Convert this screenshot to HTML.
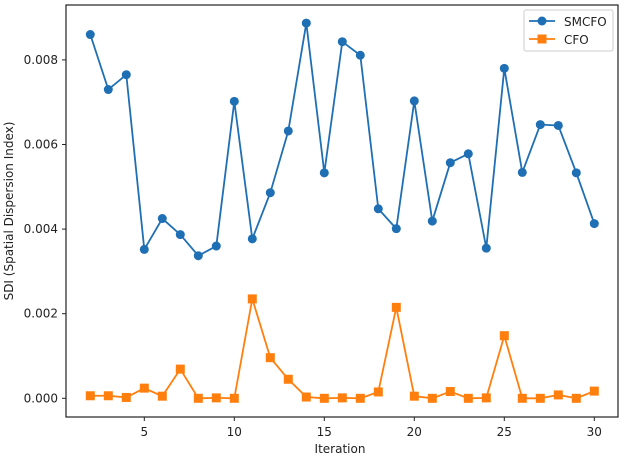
<!DOCTYPE html>
<html><head><meta charset="utf-8"><style>
body{margin:0;background:#fff;font-family:"Liberation Sans","DejaVu Sans",sans-serif;}
svg text{font-family:"DejaVu Sans","Liberation Sans",sans-serif;fill:#222;}
</style></head><body>
<svg id="chart" width="624" height="457">
<rect x="66" y="5" width="552" height="412" fill="#fff" stroke="#222" stroke-width="1.2"/>
<g id="axes"></g><g id="series"></g>
<text x="340" y="453" font-size="12" text-anchor="middle">Iteration</text>
<text transform="translate(13,211) rotate(-90)" font-size="12" text-anchor="middle">SDI (Spatial Dispersion Index)</text>
<g>
<rect x="524" y="10" width="89" height="41" fill="#fff" stroke="#ccc" rx="2"/>
<g><line x1="529" y1="21" x2="555" y2="21" stroke="#1f6fb4" stroke-width="1.8"/><circle cx="542" cy="21" r="4.5" fill="#1f6fb4"/><text x="564" y="26" font-size="12">SMCFO</text></g>
<g><line x1="529" y1="39" x2="555" y2="39" stroke="#ff7f0e" stroke-width="1.8"/><rect x="537.5" y="34.5" width="9" height="9" fill="#ff7f0e"/><text x="564" y="44" font-size="12">CFO</text></g>
</g>
</svg>
<script>
const iterations=[2,3,4,5,6,7,8,9,10,11,12,13,14,15,16,17,18,19,20,21,22,23,24,25,26,27,28,29,30];
const smcfo=[0.0086,0.0073,0.00765,0.00352,0.00425,0.00387,0.00337,0.0036,0.00702,0.00377,0.00486,0.00632,0.00887,0.00533,0.00843,0.00811,0.00448,0.00401,0.00703,0.00419,0.00557,0.00578,0.00355,0.0078,0.00534,0.00647,0.00645,0.00533,0.00413];
const cfo=[0.00006,0.00006,0.00002,0.00024,0.00005,0.00069,0,0.00001,0,0.00235,0.00096,0.00045,0.00003,0,0.00001,0,0.00015,0.00215,0.00005,0,0.00016,0,0.00001,0.00148,0,0,0.00008,0,0.00017];
const xTicks=[5,10,15,20,25,30];
const yTicks=[0,0.002,0.004,0.006,0.008];
const yTickLabels=["0.000","0.002","0.004","0.006","0.008"];
const NS="http://www.w3.org/2000/svg";
function xs(v){return 144.3+(v-5)*18;}
function ys(v){return 398.3-v*42300;}
const axes=document.getElementById('axes');
xTicks.forEach(t=>{
  const l=document.createElementNS(NS,'line');
  l.setAttribute('x1',xs(t));l.setAttribute('x2',xs(t));l.setAttribute('y1',417);l.setAttribute('y2',421);l.setAttribute('stroke','#222');
  
  
  axes.appendChild(l);
  const tx=document.createElementNS(NS,'text');
  tx.setAttribute('x',xs(t));tx.setAttribute('y',436);tx.setAttribute('font-size','12');tx.setAttribute('text-anchor','middle');tx.textContent=t;
  
  
  axes.appendChild(tx);
});
yTicks.forEach((t,i)=>{
  const l=document.createElementNS(NS,'line');
  l.setAttribute('x1',62);l.setAttribute('x2',66);l.setAttribute('y1',ys(t));l.setAttribute('y2',ys(t));l.setAttribute('stroke','#222');
  
  
  axes.appendChild(l);
  const tx=document.createElementNS(NS,'text');
  tx.setAttribute('x',58);tx.setAttribute('y',ys(t)+4);tx.setAttribute('font-size','12');tx.setAttribute('text-anchor','end');tx.textContent=yTickLabels[i];
  
  
  axes.appendChild(tx);
});
const sg=document.getElementById('series');
function draw(vals,color,shape,name){
  const p=document.createElementNS(NS,'polyline');
  p.setAttribute('points',vals.map((v,i)=>xs(iterations[i])+','+ys(v)).join(' '));
  p.setAttribute('fill','none');p.setAttribute('stroke',color);p.setAttribute('stroke-width','1.8');
  
  
  sg.appendChild(p);
  vals.forEach((v,i)=>{
    let m;
    if(shape==='circle'){m=document.createElementNS(NS,'circle');m.setAttribute('cx',xs(iterations[i]));m.setAttribute('cy',ys(v));m.setAttribute('r',4.5);}
    else{m=document.createElementNS(NS,'rect');m.setAttribute('x',xs(iterations[i])-4.5);m.setAttribute('y',ys(v)-4.5);m.setAttribute('width',9);m.setAttribute('height',9);}
    m.setAttribute('fill',color);
    
    
    sg.appendChild(m);
  });
}
draw(smcfo,'#1f6fb4','circle','smcfo');
draw(cfo,'#ff7f0e','square','cfo');
</script>
</body></html>
